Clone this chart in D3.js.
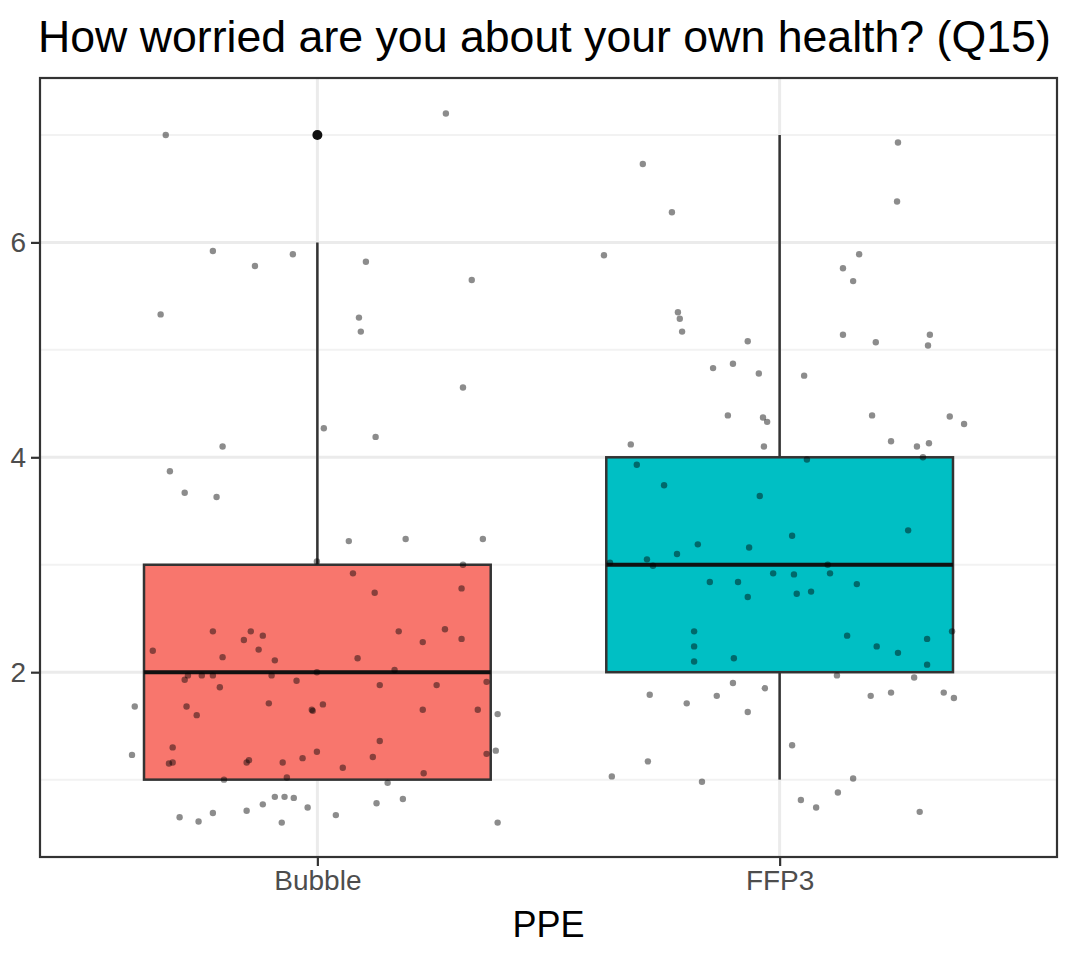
<!DOCTYPE html>
<html>
<head>
<meta charset="utf-8">
<script src="https://cdn.jsdelivr.net/npm/d3@7"></script>
<style>
  body { margin: 0; background: #fff; }
  svg { display: block; }
</style>
</head>
<body>
<svg id="chart" width="1069" height="953"></svg>
<script>
// ---- data ----
const categories = ["Bubble", "FFP3"];
const fillColors = ["#F8766D", "#00BFC4"];

// box summaries: [lower whisker, Q1, median, Q3, upper whisker]
const bubbleStats = [1, 1, 2, 3, 6];
const ffp3Stats = [1, 2, 3, 4, 7];
const bubbleOutliers = [7];
const ffp3Outliers = [];

const yMajorTicks = [2, 4, 6];
const yMinorTicks = [1, 3, 5, 7];

// jittered responses: value (with vertical jitter) and horizontal offset from the group centre
const bubbleValues = [7.00, 7.20, 5.92, 5.78, 5.89, 5.33, 5.82, 5.65, 5.30, 5.17,
  4.65, 4.27, 4.19, 4.10, 3.87, 3.67, 3.63, 3.22, 3.24, 3.24,
  3.03, 3.00, 2.92, 2.74, 2.78, 2.38, 2.20, 2.30, 2.38, 2.34,
  2.21, 2.14, 2.11, 1.93, 1.97, 1.97, 1.97, 1.86, 1.97, 1.92,
  1.68, 1.68, 1.60, 1.71, 1.65, 1.23, 1.30, 1.15, 1.16, 1.16,
  1.18, 1.16, 1.20, 1.26, 1.00, 1.02, 0.65, 0.61, 0.69, 0.71,
  0.77, 0.84, 0.84, 0.83, 0.60, 0.74, 2.38, 2.40, 2.28, 2.31,
  2.13, 2.00, 2.02, 1.88, 1.88, 1.91, 1.64, 1.70, 1.65, 1.65,
  1.61, 1.36, 1.21, 1.11, 1.06, 1.24, 1.27, 0.97, 0.78, 0.82,
  0.67, 0.60];
const bubbleJitter = [-0.328, 0.278, -0.226, -0.135, -0.053, -0.339, 0.105, 0.334, 0.090, 0.094,
  0.315, 0.014, 0.126, -0.205, -0.319, -0.287, -0.218, 0.068, 0.191, 0.358,
  -0.001, 0.315, 0.077, 0.124, 0.312, -0.226, -0.356, -0.159, -0.144, -0.118,
  -0.127, -0.205, -0.092, -0.287, -0.280, -0.250, -0.226, -0.211, -0.099, -0.045,
  -0.395, -0.283, -0.261, -0.105, -0.012, -0.401, -0.313, -0.321, -0.313, -0.153,
  -0.148, -0.075, -0.032, -0.001, -0.202, -0.066, -0.298, -0.257, -0.226, -0.153,
  -0.118, -0.092, -0.071, -0.051, -0.077, -0.021, 0.176, 0.276, 0.228, 0.312,
  0.087, -0.001, 0.167, 0.135, 0.258, 0.366, -0.010, 0.012, 0.228, 0.347,
  0.390, 0.135, 0.120, 0.055, 0.230, 0.366, 0.386, 0.152, 0.128, 0.185,
  0.040, 0.390];

const ffp3Values = [6.93, 6.73, 6.28, 6.38, 5.88, 5.89, 5.76, 5.64, 5.35, 5.29,
  5.17, 5.14, 5.07, 5.14, 5.04, 5.08, 4.83, 4.87, 4.78, 4.76,
  4.39, 4.37, 4.33, 4.39, 4.38, 4.31, 4.15, 4.10, 4.13, 4.10,
  4.12, 3.93, 3.98, 4.00, 3.74, 3.64, 3.27, 3.32, 3.19, 3.10,
  3.16, 3.02, 3.05, 2.99, 2.84, 2.84, 2.92, 2.70, 3.00, 2.92,
  2.91, 2.73, 2.75, 2.82, 2.38, 2.24, 2.10, 2.13, 1.90, 1.85,
  1.79, 1.71, 1.78, 1.63, 2.34, 2.24, 2.18, 2.31, 2.38, 2.07,
  1.97, 1.95, 1.78, 1.81, 1.81, 1.76, 1.32, 1.17, 1.03, 0.98,
  1.01, 0.88, 0.81, 0.74, 0.70];
const ffp3Jitter = [0.256, -0.296, -0.233, 0.254, -0.380, 0.172, 0.137, 0.159, -0.220, -0.216,
  -0.211, 0.137, 0.208, 0.325, 0.321, -0.069, -0.144, -0.101, -0.045, 0.053,
  -0.112, -0.036, -0.027, 0.200, 0.368, 0.399, 0.241, 0.297, 0.323, -0.034,
  -0.322, -0.309, 0.059, 0.310, -0.250, -0.043, 0.027, 0.278, -0.177, -0.222,
  -0.066, -0.367, -0.287, -0.274, -0.151, -0.090, -0.014, -0.069, 0.104, 0.109,
  0.031, 0.037, 0.068, 0.167, -0.185, -0.185, -0.185, -0.099, -0.101, -0.032,
  -0.281, -0.201, -0.136, -0.069, 0.146, 0.210, 0.256, 0.319, 0.373, 0.319,
  0.124, 0.291, 0.197, 0.241, 0.355, 0.377, 0.027, -0.285, -0.363, -0.168,
  0.159, 0.126, 0.046, 0.079, 0.303];

// ---- assembled groups ----
const groups = [
  { name: categories[0], pos: 1, fill: fillColors[0], stats: bubbleStats, outliers: bubbleOutliers,
    points: bubbleValues.map((v, i) => ({ v, dx: bubbleJitter[i] })) },
  { name: categories[1], pos: 2, fill: fillColors[1], stats: ffp3Stats, outliers: ffp3Outliers,
    points: ffp3Values.map((v, i) => ({ v, dx: ffp3Jitter[i] })) }
];

// ---- layout ----
const panel = { left: 40, right: 1057, top: 78, bottom: 857 };
const svg = d3.select("#chart");
const fontFamily = "'Liberation Sans', Arial, Helvetica, sans-serif";

const x = d3.scaleLinear().domain([0.4, 2.6]).range([panel.left, panel.right]);
const y = d3.scaleLinear().domain([0.28, 7.53]).range([panel.bottom, panel.top]);
const boxHalf = 0.375;

// panel background
svg.append("rect")
  .attr("x", panel.left).attr("y", panel.top)
  .attr("width", panel.right - panel.left).attr("height", panel.bottom - panel.top)
  .attr("fill", "#fff");

const grid = svg.append("g");
grid.selectAll("line.minor").data(yMinorTicks).join("line")
  .attr("class", "minor")
  .attr("x1", panel.left).attr("x2", panel.right)
  .attr("y1", d => y(d)).attr("y2", d => y(d))
  .attr("stroke", "#F2F2F2").attr("stroke-width", 2);
grid.selectAll("line.major").data(yMajorTicks).join("line")
  .attr("class", "major")
  .attr("x1", panel.left).attr("x2", panel.right)
  .attr("y1", d => y(d)).attr("y2", d => y(d))
  .attr("stroke", "#EBEBEB").attr("stroke-width", 3);
grid.selectAll("line.vmajor").data(groups).join("line")
  .attr("class", "vmajor")
  .attr("x1", d => x(d.pos)).attr("x2", d => x(d.pos))
  .attr("y1", panel.top).attr("y2", panel.bottom)
  .attr("stroke", "#EBEBEB").attr("stroke-width", 3);

// boxplots
const boxes = svg.append("g").selectAll("g").data(groups).join("g");
boxes.append("line")
  .attr("x1", d => x(d.pos)).attr("x2", d => x(d.pos))
  .attr("y1", d => y(d.stats[3])).attr("y2", d => y(d.stats[4]))
  .attr("stroke", "#333").attr("stroke-width", 2.5);
boxes.append("line")
  .attr("x1", d => x(d.pos)).attr("x2", d => x(d.pos))
  .attr("y1", d => y(d.stats[0])).attr("y2", d => y(d.stats[1]))
  .attr("stroke", "#333").attr("stroke-width", 2.5);
boxes.append("rect")
  .attr("x", d => x(d.pos - boxHalf))
  .attr("width", d => x(d.pos + boxHalf) - x(d.pos - boxHalf))
  .attr("y", d => y(d.stats[3]))
  .attr("height", d => y(d.stats[1]) - y(d.stats[3]))
  .attr("fill", d => d.fill)
  .attr("stroke", "#333").attr("stroke-width", 2.5);
boxes.append("line")
  .attr("x1", d => x(d.pos - boxHalf)).attr("x2", d => x(d.pos + boxHalf))
  .attr("y1", d => y(d.stats[2])).attr("y2", d => y(d.stats[2]))
  .attr("stroke", "#111").attr("stroke-width", 4);
boxes.selectAll("circle.outlier").data(d => d.outliers.map(v => ({ v, pos: d.pos }))).join("circle")
  .attr("class", "outlier")
  .attr("cx", d => x(d.pos)).attr("cy", d => y(d.v))
  .attr("r", 5).attr("fill", "#111");

// jittered points
const pts = svg.append("g");
groups.forEach(g => {
  pts.selectAll(null).data(g.points).join("circle")
    .attr("cx", d => x(g.pos + d.dx)).attr("cy", d => y(d.v))
    .attr("r", 3.2)
    .attr("fill", "#000").attr("fill-opacity", 0.45);
});

// panel border
svg.append("rect")
  .attr("x", panel.left).attr("y", panel.top)
  .attr("width", panel.right - panel.left).attr("height", panel.bottom - panel.top)
  .attr("fill", "none").attr("stroke", "#333").attr("stroke-width", 2.2);

// y axis
const yAxis = svg.append("g")
  .attr("transform", `translate(${panel.left},0)`)
  .call(d3.axisLeft(y).tickValues(yMajorTicks).tickSize(9).tickPadding(5).tickFormat(d3.format("d")));
yAxis.select(".domain").remove();
yAxis.selectAll(".tick line").attr("stroke", "#333").attr("stroke-width", 2.2);
yAxis.selectAll(".tick text")
  .attr("fill", "#4D4D4D").style("font-family", fontFamily).style("font-size", "28px");

// x axis
const xAxis = svg.append("g")
  .attr("transform", `translate(0,${panel.bottom})`)
  .call(d3.axisBottom(x).tickValues(groups.map(g => g.pos)).tickSize(9).tickPadding(4)
    .tickFormat((d, i) => categories[i]));
xAxis.select(".domain").remove();
xAxis.selectAll(".tick line").attr("stroke", "#333").attr("stroke-width", 2.2);
xAxis.selectAll(".tick text")
  .attr("fill", "#4D4D4D").style("font-family", fontFamily).style("font-size", "28px");

// axis title
svg.append("text")
  .attr("x", (panel.left + panel.right) / 2).attr("y", 937)
  .attr("text-anchor", "middle")
  .style("font-family", fontFamily).style("font-size", "36px").attr("fill", "#000")
  .text("PPE");

// plot title, sized to span the panel width
const title = svg.append("text")
  .attr("x", 38).attr("y", 52)
  .style("font-family", fontFamily).style("font-size", "44px").attr("fill", "#000")
  .text("How worried are you about your own health? (Q15)");
const tw = title.node().getComputedTextLength();
title.style("font-size", (44 * 1013 / tw).toFixed(2) + "px");
</script>
</body>
</html>
